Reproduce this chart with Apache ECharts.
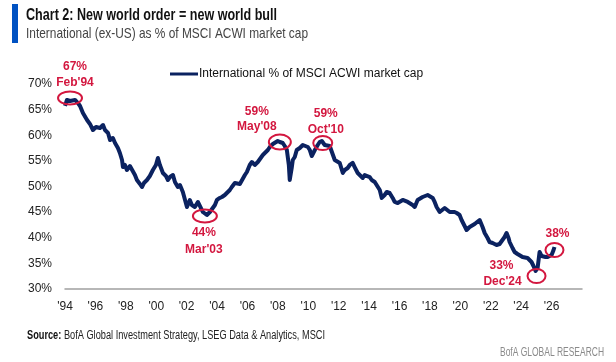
<!DOCTYPE html>
<html>
<head>
<meta charset="utf-8">
<script src="https://cdn.jsdelivr.net/npm/echarts@6/dist/echarts.min.js"></script>
<style>
html,body{margin:0;padding:0;background:#fff;}
#chart{width:616px;height:362px;}
</style>
</head>
<body>
<div id="chart"></div>
<script>
// ---- Data ----
const seriesName = 'International % of MSCI ACWI market cap';
const years = [
1994.00,1994.13,1994.33,1994.46,1994.66,1994.79,1994.85,1994.99,1995.18,1995.31,1995.45,1995.64,1995.84,
1996.04,1996.30,1996.50,1996.63,1996.83,1996.96,1997.15,1997.29,1997.48,1997.61,1997.75,1997.81,1997.94,
1998.07,1998.27,1998.40,1998.60,1998.73,1998.93,1999.06,1999.19,1999.39,1999.58,1999.78,1999.98,
2000.11,2000.24,2000.44,2000.64,2000.77,2000.90,2001.10,2001.23,2001.42,2001.56,2001.75,2001.88,
2002.02,2002.21,2002.34,2002.54,2002.74,2002.87,2003.07,2003.20,2003.33,2003.53,2003.66,2003.86,2003.99,
2004.18,2004.32,2004.51,2004.64,2004.84,2004.97,2005.17,2005.30,2005.50,2005.63,2005.83,2005.96,
2006.15,2006.29,2006.48,2006.68,2006.81,2007.01,2007.14,2007.34,2007.47,2007.67,2007.80,2007.99,
2008.13,2008.32,2008.45,2008.59,2008.72,2008.78,2008.91,2008.98,2009.11,2009.24,2009.44,2009.64,2009.77,2009.97,
2010.10,2010.23,2010.29,2010.43,2010.62,2010.75,2010.89,2011.08,2011.21,2011.41,2011.54,2011.74,2011.87,
2012.07,2012.27,2012.40,2012.59,2012.73,2012.92,2013.05,2013.25,2013.38,2013.58,2013.71,2013.84,
2014.04,2014.17,2014.37,2014.50,2014.70,2014.83,2015.02,2015.16,2015.35,2015.55,2015.68,2015.88,
2016.01,2016.21,2016.34,2016.54,2016.67,2016.86,2017.00,2017.19,2017.32,2017.52,2017.65,2017.85,2017.98,
2018.18,2018.31,2018.44,2018.64,2018.77,2018.97,2019.10,2019.30,2019.43,2019.62,2019.76,2019.95,
2020.08,2020.28,2020.41,2020.61,2020.74,2020.94,2021.07,2021.27,2021.46,2021.60,2021.79,2021.92,
2022.12,2022.25,2022.38,2022.58,2022.71,2022.91,2023.04,2023.17,2023.24,2023.43,2023.57,2023.76,2023.89,
2024.09,2024.22,2024.42,2024.55,2024.68,2024.81,2024.95,2025.01,2025.08,2025.21,2025.34,2025.41,2025.60,
2025.74,2025.87,2026.00,2026.13,2026.19
];
const shares = [
65.71,66.88,66.68,67.07,66.88,67.07,66.29,65.71,64.34,64.73,62.98,62.20,61.02,
61.61,61.41,62.00,61.02,60.44,59.07,59.46,58.49,57.51,56.54,55.17,53.80,54.20,
53.22,54.00,53.61,52.24,51.27,50.49,49.90,50.68,51.27,52.05,53.22,54.20,
55.56,54.20,52.63,52.05,51.27,51.85,52.24,50.88,49.90,50.29,48.93,49.32,
46.00,47.37,46.39,46.00,46.98,46.78,45.02,44.63,44.44,45.02,45.41,46.39,47.37,
47.76,47.95,48.34,48.73,49.32,49.90,50.68,50.88,50.49,50.68,52.24,52.83,
54.20,54.78,54.20,54.78,55.17,56.15,56.54,57.12,57.71,58.29,58.68,58.88,
58.68,58.49,57.90,57.12,54.20,51.27,53.61,55.17,55.76,57.12,57.51,58.10,58.49,57.71,
57.12,55.95,56.15,57.12,58.10,58.68,58.88,58.10,57.71,57.90,57.51,55.17,55.56,
54.59,52.63,53.22,53.61,54.20,54.59,53.80,52.63,52.24,51.66,52.24,52.63,
51.85,51.27,50.88,50.68,49.32,47.76,48.34,48.93,48.73,47.76,46.98,46.78,
46.98,47.37,47.37,46.98,46.78,46.39,46.00,47.37,47.76,47.95,48.15,48.34,48.15,
47.76,46.98,46.00,45.02,44.63,45.80,45.80,45.02,44.83,45.02,44.83,44.44,
43.46,42.29,41.51,42.10,42.49,42.68,42.88,43.46,42.10,40.93,39.95,39.17,
38.98,38.78,38.59,38.78,38.98,40.15,40.93,39.95,39.17,38.00,37.22,36.83,36.63,
36.24,36.05,36.05,36.05,35.27,34.49,33.51,33.32,34.10,37.22,36.44,36.05,36.24,
36.24,36.44,36.63,37.61,38.20
];
// Axis ticks
const xTickYears = [1994,1996,1998,2000,2002,2004,2006,2008,2010,2012,2014,2016,2018,2020,2022,2024,2026];
const xTickLabels = ["'94","'96","'98","'00","'02","'04","'06","'08","'10","'12","'14","'16","'18","'20","'22","'24","'26"];
const yTickValues = [30,35,40,45,50,55,60,65,70];
const yTickLabels = ['30%','35%','40%','45%','50%','55%','60%','65%','70%'];
// Annotations (circled points)
const annYears  = [1994.33, 2003.20, 2008.13, 2010.95, 2025.01, 2026.19];
const annValues = [67.27, 44.24, 58.68, 58.49, 32.54, 37.61];
const annPct    = ['67%', '44%', '59%', '59%', '33%', '38%'];
const annDate   = ["Feb'94", "Mar'03", "May'08", "Oct'10", "Dec'24", ''];
// Texts
const titleText = 'Chart 2: New world order = new world bull';
const subtitleText = 'International (ex-US) as % of MSCI ACWI market cap';
const sourceLabel = 'Source:';
const sourceText = ' BofA Global Investment Strategy, LSEG Data & Analytics, MSCI';
const brandText = 'BofA GLOBAL RESEARCH';

// ---- Styling ----
const RED = '#d3173f';
const NAVY = '#0b2260';
const annStyle = [ // ellipse radii and text offsets (pixels)
  {rx:12, ry:6.5, p:[5,-31], d:[5,-15]},
  {rx:12, ry:6.5, p:[-1,17], d:[-1,34]},
  {rx:11, ry:7.5, p:[-23,-30], d:[-23,-15]},
  {rx:9.5, ry:7, p:[3,-29], d:[3,-13]},
  {rx:9, ry:7, p:[-35,-10], d:[-34,6]},
  {rx:9, ry:7, p:[3,-16], d:[0,0]}
];
const baseFont = '"Liberation Sans", Arial, sans-serif';
const measureCtx = document.createElement('canvas').getContext('2d');
function textW(font, txt) { measureCtx.font = font; return measureCtx.measureText(txt).width; }
function fitScale(parts, target) { // parts: [[font, text], ...]
  let w = 0; parts.forEach(p => { w += textW(p[0], p[1]); });
  return target / w;
}
const titleFont = 'bold 16px ' + baseFont;
const subFont = '15px ' + baseFont;
const srcBoldFont = 'bold 12px ' + baseFont;
const srcFont = '12px ' + baseFont;

const lineData = years.map((y, i) => [y, shares[i]]);
const annData = annYears.map((y, i) => [y, annValues[i], i]);

const chart = echarts.init(document.getElementById('chart'), null, {renderer: 'canvas'});

chart.setOption({
  animation: false,
  backgroundColor: '#fff',
  grid: {left: 65, right: 34, top: 84, bottom: 73, containLabel: false},
  legend: {
    data: [seriesName],
    left: 165, top: 63,
    icon: 'rect', itemWidth: 28, itemHeight: 3, itemGap: 10,
    textStyle: {fontFamily: baseFont, fontSize: 12, color: '#111', padding: [0,0,0,-4]}
  },
  xAxis: {
    type: 'value', min: 1994, max: 2028, interval: 2,
    axisLine: {show: true, lineStyle: {color: '#a0a0a0', width: 1.5}},
    axisTick: {show: false},
    splitLine: {show: false},
    axisLabel: {
      fontFamily: baseFont, fontSize: 12, color: '#222', margin: 12,
      formatter: v => { const k = xTickYears.indexOf(v); return k >= 0 ? xTickLabels[k] : ''; }
    }
  },
  yAxis: {
    type: 'value', min: 30, max: 70, interval: 5,
    axisLine: {show: false}, axisTick: {show: false}, splitLine: {show: false},
    axisLabel: {
      fontFamily: baseFont, fontSize: 12, color: '#222', margin: 13,
      formatter: v => { const k = yTickValues.indexOf(v); return k >= 0 ? yTickLabels[k] : ''; }
    }
  },
  series: [
    {
      name: seriesName, type: 'line', data: lineData,
      symbol: 'none', smooth: false,
      lineStyle: {color: NAVY, width: 4, join: 'round'},
      itemStyle: {color: NAVY}, z: 2
    },
    {
      name: 'annotations', type: 'custom', data: annData, clip: false, z: 5,
      encode: {x: 0, y: 1},
      renderItem: (params, api) => {
        const i = api.value(2);
        const c = api.coord([api.value(0), api.value(1)]);
        const s = annStyle[i];
        const children = [
          {type: 'ellipse', shape: {cx: c[0], cy: c[1], rx: s.rx, ry: s.ry},
           style: {fill: 'none', stroke: RED, lineWidth: 2}},
          {type: 'text', x: c[0] + s.p[0], y: c[1] + s.p[1],
           style: {text: annPct[i], fill: RED, font: 'bold 12px ' + baseFont, align: 'center', verticalAlign: 'middle'}}
        ];
        if (annDate[i]) {
          children.push({type: 'text', x: c[0] + s.d[0], y: c[1] + s.d[1],
            style: {text: annDate[i], fill: RED, font: 'bold 12px ' + baseFont, align: 'center', verticalAlign: 'middle'}});
        }
        return {type: 'group', children: children};
      }
    }
  ],
  graphic: [
    {type: 'rect', shape: {x: 12, y: 4, width: 6, height: 39}, style: {fill: '#0052c2'}},
    {type: 'text', x: 26, y: 16, scaleX: fitScale([[titleFont, titleText]], 251),
     style: {text: titleText, font: titleFont, fill: '#111', verticalAlign: 'middle'}},
    {type: 'text', x: 26, y: 34, scaleX: fitScale([[subFont, subtitleText]], 282),
     style: {text: subtitleText, font: subFont, fill: '#444', verticalAlign: 'middle'}},
    {type: 'text', x: 27, y: 336, scaleX: fitScale([[srcBoldFont, sourceLabel], [srcFont, sourceText]], 298),
     style: {
      text: '{b|' + sourceLabel + '}{r|' + sourceText + '}',
      verticalAlign: 'middle',
      rich: {
        b: {font: srcBoldFont, fill: '#111'},
        r: {font: srcFont, fill: '#222'}
      }
    }},
    {type: 'text', x: 604, y: 353, scaleX: fitScale([[srcFont, brandText]], 104),
     style: {text: brandText, font: srcFont, fill: '#8a8a8a', align: 'right', verticalAlign: 'middle'}}
  ]
});
</script>
</body>
</html>
